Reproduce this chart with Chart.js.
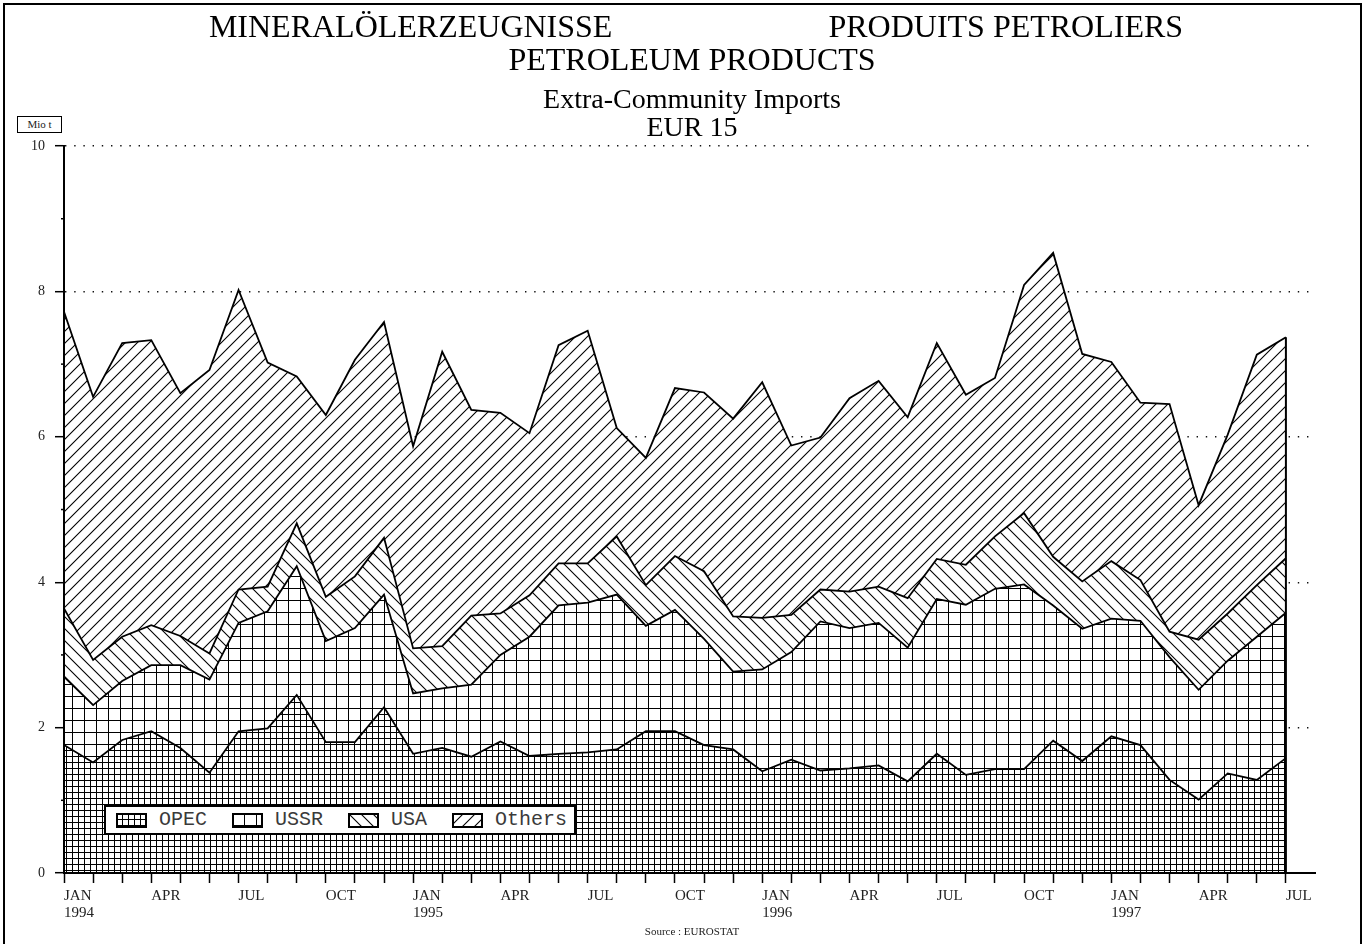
<!DOCTYPE html>
<html>
<head>
<meta charset="utf-8">
<script src="https://cdn.jsdelivr.net/npm/chart.js@4.4.1/dist/chart.umd.min.js"></script>
<style>
html,body{margin:0;padding:0;background:#fff;}
#wrap{position:relative;width:1370px;height:944px;overflow:hidden;background:#fff;}
#c{position:absolute;left:0;top:0;}
#frame{position:absolute;left:3px;top:3px;width:1355px;height:960px;border:2px solid #000;border-bottom:none;pointer-events:none;}
#unit{position:absolute;left:17px;top:116px;width:43px;height:15px;border:1px solid #000;font:11px 'Liberation Serif',serif;text-align:center;line-height:15px;color:#222;background:#fff;}
#legend{position:absolute;left:104px;top:805px;width:458px;height:26px;border:2px solid #000;background:#fff;display:flex;align-items:center;padding-left:10px;}
.item{display:flex;align-items:center;margin-right:25px;}
.item canvas{display:block;margin-right:12px;}
.item span{font:20px 'Liberation Mono','DejaVu Sans Mono',monospace;color:#3a3a3a;line-height:20px;}
#source{position:absolute;left:0;width:1384px;top:925px;text-align:center;font:11px 'Liberation Serif',serif;color:#222;}
</style>
</head>
<body>
<div id="wrap">
  <canvas id="c" width="1370" height="944"></canvas>
  <div id="frame"></div>
  <div id="unit">Mio t</div>
  <div id="legend"></div>
  <div id="source">Source : EUROSTAT</div>
</div>
<script>
// ---- data (Mio t, monthly, Jan 1994 - Jul 1997) ----
const periods = ['1994-01','1994-02','1994-03','1994-04','1994-05','1994-06','1994-07','1994-08','1994-09','1994-10','1994-11','1994-12',
                 '1995-01','1995-02','1995-03','1995-04','1995-05','1995-06','1995-07','1995-08','1995-09','1995-10','1995-11','1995-12',
                 '1996-01','1996-02','1996-03','1996-04','1996-05','1996-06','1996-07','1996-08','1996-09','1996-10','1996-11','1996-12',
                 '1997-01','1997-02','1997-03','1997-04','1997-05','1997-06','1997-07'];
const opec   = [1.76,1.52,1.83,1.95,1.72,1.38,1.95,1.99,2.45,1.80,1.80,2.28,1.64,1.72,1.60,1.81,1.61,1.64,1.66,1.70,1.95,1.95,1.76,1.70,1.40,1.56,1.41,1.44,1.48,1.26,1.64,1.35,1.43,1.43,1.82,1.54,1.88,1.76,1.28,1.01,1.37,1.28,1.58];
const ussr   = [0.94,0.79,0.81,0.91,1.14,1.28,1.49,1.61,1.77,1.39,1.57,1.55,0.83,0.82,0.99,1.19,1.64,2.04,2.06,2.13,1.45,1.67,1.46,1.07,1.40,1.48,2.05,1.93,1.96,1.84,2.13,2.34,2.48,2.54,1.86,1.82,1.62,1.71,1.69,1.51,1.55,1.97,2.00];
const usa    = [0.94,0.62,0.61,0.55,0.40,0.36,0.46,0.34,0.59,0.61,0.71,0.78,0.62,0.58,0.95,0.57,0.57,0.58,0.54,0.80,0.56,0.74,0.93,0.76,0.71,0.51,0.44,0.50,0.50,0.68,0.55,0.55,0.72,0.98,0.67,0.65,0.79,0.56,0.35,0.69,0.65,0.71,0.75];
const others = [4.08,3.62,4.04,3.92,3.34,3.90,4.12,3.08,2.02,2.50,2.98,2.97,2.78,4.05,2.83,2.76,2.23,3.00,3.20,1.49,1.75,2.31,2.46,2.72,3.24,2.33,2.09,2.66,2.83,2.49,2.97,2.34,2.18,3.14,4.18,3.13,2.74,2.44,3.13,1.85,2.46,3.17,3.04];
const seriesNames = ['OPEC','USSR','USA','Others'];
const tickMonths = ['1994-01','1994-04','1994-07','1994-10','1995-01','1995-04','1995-07','1995-10','1996-01','1996-04','1996-07','1996-10','1997-01','1997-04','1997-07'];
const tickLabels = [['JAN','1994'],'APR','JUL','OCT',['JAN','1995'],'APR','JUL','OCT',['JAN','1996'],'APR','JUL','OCT',['JAN','1997'],'APR','JUL'];

// ---- hatch patterns ----
function makeTile(kind){
  const s = 12;
  const c = document.createElement('canvas'); c.width = s; c.height = s;
  const g = c.getContext('2d');
  g.fillStyle = '#fff'; g.fillRect(0,0,s,s);
  g.strokeStyle = '#000'; g.lineWidth = 1;
  g.beginPath();
  if (kind === 'OPEC') {
    g.moveTo(0.5,0); g.lineTo(0.5,s); g.moveTo(6.5,0); g.lineTo(6.5,s);
    g.moveTo(0,0.5); g.lineTo(s,0.5); g.moveTo(0,6.5); g.lineTo(s,6.5);
  } else if (kind === 'USSR') {
    g.moveTo(0.5,0); g.lineTo(0.5,s); g.moveTo(0,0.5); g.lineTo(s,0.5);
  } else if (kind === 'USA') {
    g.lineWidth = 1.1;
    g.moveTo(-1,-1); g.lineTo(s+1,s+1); g.moveTo(-1,s-1); g.lineTo(1,s+1); g.moveTo(s-1,-1); g.lineTo(s+1,1);
  } else {
    g.lineWidth = 1.1;
    g.moveTo(-1,s+1); g.lineTo(s+1,-1); g.moveTo(-1,1); g.lineTo(1,-1); g.moveTo(s-1,s+1); g.lineTo(s+1,s-1);
  }
  g.stroke();
  return c;
}
const canvas = document.getElementById('c');
const ctx = canvas.getContext('2d');
const tiles = {}; const patterns = {};
seriesNames.forEach(n => { tiles[n] = makeTile(n); patterns[n] = ctx.createPattern(tiles[n], 'repeat'); });

// ---- legend (HTML) ----
const legend = document.getElementById('legend');
seriesNames.forEach(n => {
  const it = document.createElement('div'); it.className = 'item';
  const sw = document.createElement('canvas'); sw.width = 31; sw.height = 15;
  const g = sw.getContext('2d');
  g.fillStyle = g.createPattern(tiles[n], 'repeat'); g.fillRect(0,0,31,15);
  g.strokeStyle = '#000'; g.lineWidth = 2; g.strokeRect(1,1,29,13);
  const sp = document.createElement('span'); sp.textContent = n;
  it.appendChild(sw); it.appendChild(sp); legend.appendChild(it);
});

// ---- plugin: right closing edge + minor y ticks ----
const extras = {
  id: 'extras',
  afterDatasetsDraw(chart){
    const pts = chart.getDatasetMeta(chart.data.datasets.length - 1).data;
    const last = pts[pts.length - 1];
    const y0 = chart.scales.y.getPixelForValue(0);
    const g = chart.ctx;
    g.save(); g.strokeStyle = '#000'; g.lineWidth = 2;
    g.beginPath(); g.moveTo(last.x, last.y); g.lineTo(last.x, y0); g.stroke();
    g.restore();
  },
  afterDraw(chart){
    const s = chart.scales.y; const g = chart.ctx;
    g.save(); g.strokeStyle = '#000'; g.lineWidth = 1.5;
    s.ticks.filter(t => t.value % 2 === 1).forEach(t => {
      const y = s.getPixelForValue(t.value);
      g.beginPath(); g.moveTo(s.right - 3, y); g.lineTo(s.right, y); g.stroke();
    });
    g.restore();
  }
};

const serif = "'Liberation Serif','Times New Roman',serif";
const seriesData = [opec, ussr, usa, others];
const line1 = ' MINERALÖLERZEUGNISSE' + ' '.repeat(27) + 'PRODUITS PETROLIERS';

new Chart(ctx, {
  type: 'line',
  data: {
    datasets: seriesNames.map((n, k) => ({
      label: n,
      data: seriesData[k].map((v, i) => ({x: i, y: v})),
      backgroundColor: patterns[n],
      borderColor: '#000',
      borderWidth: 1.8,
      fill: k === 0 ? 'origin' : '-1',
      pointRadius: 0,
      tension: 0
    }))
  },
  options: {
    responsive: false,
    animation: false,
    devicePixelRatio: 1,
    layout: {padding: {left: 14, right: 0, top: 0, bottom: 11}},
    plugins: {
      legend: {display: false},
      tooltip: {enabled: false},
      filler: {drawTime: 'beforeDatasetsDraw'},
      title: {
        display: true, text: [line1, 'PETROLEUM PRODUCTS'], color: '#000',
        font: {family: serif, size: 32, weight: 'normal', lineHeight: 1.03},
        padding: {top: 12, bottom: 0}
      },
      subtitle: {
        display: true, text: ['Extra-Community Imports', 'EUR 15'], color: '#000',
        font: {family: serif, size: 28, weight: 'normal', lineHeight: 1.02},
        padding: {top: 8, bottom: 3}
      }
    },
    scales: {
      x: {
        type: 'linear', min: 0, max: 43,
        afterBuildTicks: a => { a.ticks = a.ticks.filter(t => t.value <= periods.length - 1); },
        afterFit: s => { s.height = 60; },
        ticks: {
          stepSize: 1, maxTicksLimit: 100, autoSkip: false, maxRotation: 0, minRotation: 0,
          align: 'start', padding: 5, color: '#222',
          font: {family: serif, size: 15, lineHeight: 1.1},
          callback: v => { const k = tickMonths.indexOf(periods[v]); return k >= 0 ? tickLabels[k] : ''; }
        },
        grid: {drawOnChartArea: false, tickLength: 10, tickColor: '#000', tickWidth: 1.5},
        border: {display: true, color: '#000', width: 2, z: 1}
      },
      y: {
        stacked: true, min: 0, max: 10,
        afterFit: s => { s.width = 50; },
        ticks: {
          stepSize: 1, maxTicksLimit: 100, autoSkip: false, padding: 10, color: '#222',
          font: {family: serif, size: 14},
          callback: v => (v % 2 === 0 ? String(v) : '')
        },
        grid: {
          color: c => (c.tick && c.tick.value % 2 === 0 && c.tick.value > 0) ? '#111' : 'rgba(0,0,0,0)',
          lineWidth: 1.4,
          tickLength: 9,
          tickColor: c => (c.tick && c.tick.value % 2 === 0) ? '#000' : 'rgba(0,0,0,0)',
          tickWidth: 1.5
        },
        border: {display: true, color: '#000', width: 2, dash: [1.4, 7.8], z: 1}
      },
      yR: {
        position: 'right', display: true,
        afterFit: s => { s.width = 55; },
        grid: {display: false}, ticks: {display: false}, border: {display: false}
      }
    }
  },
  plugins: [extras]
});
</script>
</body>
</html>
